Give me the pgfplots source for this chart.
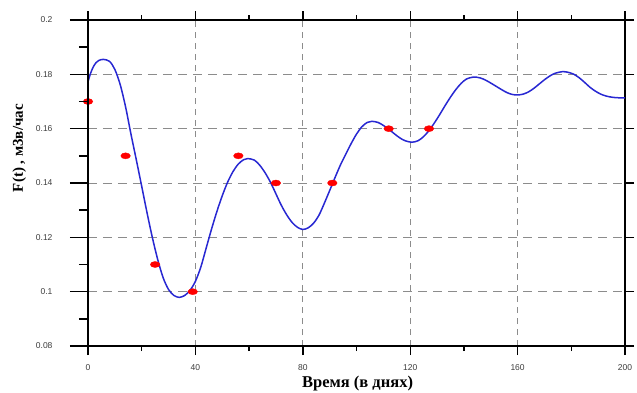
\documentclass[border=0pt]{standalone}
\usepackage{fontspec}
\setmainfont{Liberation Serif}
\newfontfamily\arialf{Liberation Sans}
\usepackage{pgfplots}
\pgfplotsset{compat=1.18}
\definecolor{curveblue}{RGB}{40,40,210}
\definecolor{gridgray}{RGB}{140,140,140}
\definecolor{ticktext}{RGB}{60,60,60}
\begin{document}
\begin{tikzpicture}
\begin{axis}[
  scale only axis, width=537pt, height=326pt,
  xmin=0, xmax=200, ymin=0.08, ymax=0.2,
  xtick={0,40,80,120,160,200},
  xticklabels={0,40,80,120,160,200},
  minor xtick={20,60,100,140,180},
  ytick={0.08,0.1,0.12,0.14,0.16,0.18,0.2},
  yticklabels={0.08,0.1,0.12,0.14,0.16,0.18,0.2},
  tick align=outside,
  major tick length=9pt, minor tick length=5pt,
  tick style={black, line width=1.4pt},
  axis line style={black, line width=1.6pt},
  xtick pos=both, ytick pos=both,
  xmajorgrids, ymajorgrids,
  x grid style={gridgray, line width=0.8pt, dash pattern=on 6pt off 5pt},
  y grid style={gridgray, line width=0.8pt, dash pattern=on 9pt off 6pt},
  ticklabel style={font=\arialf\fontsize{8.5}{10}\selectfont, text=ticktext},
  /pgf/number format/assume math mode=true,
  yticklabel style={xshift=-23pt},
  xticklabel style={yshift=-6pt},
  every axis x label/.style={at={(axis description cs:0.502,0)}, yshift=-38pt, anchor=center},
  every axis y label/.style={at={(axis description cs:-0.128,0.607)}, rotate=90, anchor=center},
  xlabel={\fontsize{16.5}{18}\selectfont\bfseries Время (в днях)},
  ylabel={\fontsize{15}{17}\selectfont\bfseries F(t) , м3в/час},
]
\addplot[curveblue, line width=1.5pt, smooth, tension=0.5] coordinates {
(0,0.1773) (1,0.1805) (2,0.1828) (3,0.1843) (4,0.1851) (5.7,0.1855) (8,0.1848)
(10,0.1818) (12,0.1762) (14,0.1680) (16,0.1580) (18,0.1485) (20,0.1388) (22,0.1290)
(24,0.1198) (26,0.1117) (28,0.1051) (30,0.1008) (32,0.0986) (34,0.0979) (36,0.0986)
(38,0.1005) (40,0.1038) (42,0.1090) (44,0.1160) (46,0.1230) (48,0.1295) (50,0.1353)
(52,0.1403) (54,0.1442) (56,0.1470) (58,0.1486) (59.5,0.1490) (62,0.1484) (64,0.1465)
(66,0.1437) (68,0.1402) (70,0.1360) (72,0.1318) (74,0.1283) (76,0.1255) (78,0.1237)
(80,0.1229) (82,0.1235) (84,0.1252) (86,0.1281) (88,0.1325) (90,0.1372) (92,0.1420)
(94,0.1466) (96,0.1506) (98,0.1545) (100,0.1580) (102,0.1607) (104,0.1623) (105.7,0.1627)
(108,0.1623) (110,0.1612) (112,0.1598) (114,0.1582) (116,0.1567) (118,0.1556) (120.6,0.1550)
(123,0.1556) (125,0.1571) (127,0.1593) (129,0.1621) (131,0.1652) (133,0.1685) (135,0.1716)
(137,0.1744) (139,0.1767) (141,0.1783) (143.6,0.1790) (146,0.1787) (148,0.1779) (150,0.1768)
(152,0.1756) (154,0.1744) (156,0.1733) (158,0.1726) (160,0.1724) (162,0.1727) (164,0.1735)
(166,0.1748) (168,0.1764) (170,0.1780) (172,0.1794) (174,0.1804) (176.8,0.1810) (179,0.1807)
(181,0.1800) (183,0.1787) (185,0.1770) (187,0.1752) (189,0.1738) (191,0.1727) (193,0.1720)
(195,0.1716) (197,0.1714) (200,0.1713)
};
\addplot[only marks, mark=*, mark size=3pt, red, mark options={xscale=1.6, draw=red, fill=red}] coordinates {
(0,0.17) (14,0.15) (25,0.11) (39,0.10) (56,0.15) (70,0.14) (91,0.14) (112,0.16) (127,0.16)
};
\end{axis}
\begin{axis}[
  scale only axis, width=537pt, height=326pt,
  xmin=0, xmax=200, ymin=0.08, ymax=0.2,
  axis x line=none, axis y line*=left,
  ytick={0.08,0.1,0.12,0.14,0.16,0.18,0.2},
  minor ytick={0.09,0.11,0.13,0.15,0.17,0.19},
  yticklabels={},
  tick align=outside,
  major tick length=18pt, minor tick length=9pt,
  tick style={black, line width=1.4pt},
  axis line style={black, line width=1.6pt},
]
\end{axis}
\pgfresetboundingbox
\path[use as bounding box] (-88pt,-46pt) rectangle (549pt,346pt);
\end{tikzpicture}
\end{document}
